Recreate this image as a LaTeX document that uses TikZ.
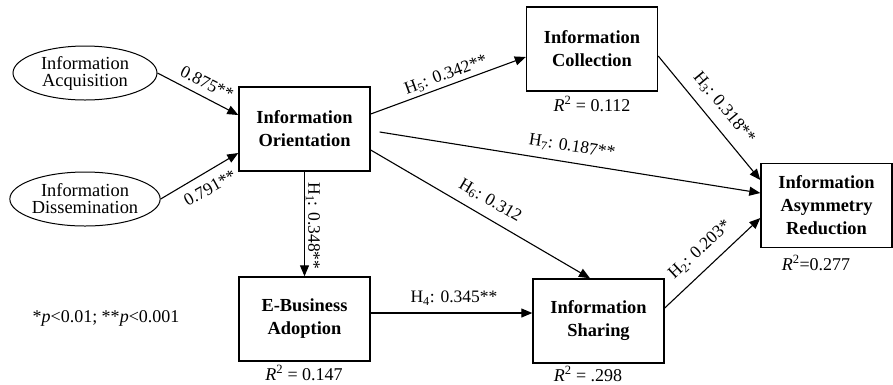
\documentclass[tikz,border=0pt]{standalone}
\usepackage{fontspec}
\setmainfont{Liberation Serif}
\usetikzlibrary{shapes.geometric,arrows.meta}
\begin{document}
\begin{tikzpicture}[x=1pt,y=-1pt,
  box/.style={draw,line width=1.4pt,minimum width=131pt,minimum height=84pt,
    inner sep=0pt,align=center,font=\fontsize{18.4}{23}\selectfont\bfseries},
  oval/.style={draw,ellipse,line width=1pt,minimum width=144pt,minimum height=54pt,
    inner sep=0pt,align=center,font=\fontsize{18.4}{17}\selectfont},
  arr/.style={-{Triangle[length=11pt,width=9pt]},line width=1.1pt},
  lbl/.style={inner sep=0pt,font=\fontsize{17.5}{20}\selectfont},
  rsq/.style={inner sep=0pt,font=\fontsize{18}{20}\selectfont}]
\useasboundingbox (0,0) rectangle (893,384);

% constructs
\node[oval] (acq) at (85,73) {Information\\Acquisition};
\node[oval] (dis) at (85,199) {Information\\Dissemination};
\node[box] (io) at (304.5,129) {Information\\Orientation};
\node[box] (ic) at (592,49) {Information\\Collection};
\node[box] (iar) at (826.5,205.5) {Information\\Asymmetry\\Reduction};
\node[box] (eba) at (304.5,319) {E-Business\\Adoption};
\node[box] (ish) at (598.5,321) {Information\\Sharing};

% paths
\draw[arr] (acq.east) -- ([yshift=14pt]io.west);
\draw[arr] (dis.east) -- ([yshift=-24pt]io.west);
\draw[arr] ([yshift=15pt]io.east) -- ([yshift=-8pt]ic.west);
\draw[arr] ([xshift=9pt,yshift=-3pt]io.east) -- ([yshift=12.5pt]iar.west);
\draw[arr] ([yshift=-21pt]io.east) -- ([xshift=-8.5pt]ish.north);
\draw[arr] (io.south) -- (eba.north);
\draw[arr] ([yshift=6pt]eba.east) -- ([yshift=8pt]ish.west);
\draw[arr] ([yshift=-7pt]ic.east) -- ([yshift=25.5pt]iar.west);
\draw[arr] ([yshift=13pt]ish.east) -- ([yshift=-12.5pt]iar.west);

% path coefficients
\node[lbl,rotate=-26.6] (l1) at (207,83) {0.875**};
\node[lbl,rotate=29.3] (l2) at (210,188) {0.791**};
\node[lbl,rotate=20.1] (h5) at (446,75) {H\textsubscript{5}: 0.342**};
\node[lbl,rotate=-9.1] (h7) at (572,147) {H\textsubscript{7}: 0.187**};
\node[lbl,rotate=-30.4] (h6) at (490,201) {H\textsubscript{6}: 0.312};
\node[lbl,rotate=-90] (h1) at (313,226) {H\textsubscript{1}: 0.348**};
\node[lbl] (h4) at (454,298) {H\textsubscript{4}: 0.345**};
\node[lbl,rotate=-50.3] (h3) at (724,108) {H\textsubscript{3}: 0.318**};
\node[lbl,rotate=42.9] (h2) at (700,250) {H\textsubscript{2}: 0.203*};

% explained variance
\node[rsq] (r1) at (592,104) {\textit{R}\textsuperscript{2} = 0.112};
\node[rsq] (r2) at (304,373) {\textit{R}\textsuperscript{2} = 0.147};
\node[rsq] (r3) at (588,374) {\textit{R}\textsuperscript{2} = .298};
\node[rsq] (r4) at (816,263) {\textit{R}\textsuperscript{2}=0.277};

% significance note
\node[rsq] (note) at (106,318) {*\textit{p}<0.01; **\textit{p}<0.001};
\end{tikzpicture}
\end{document}
